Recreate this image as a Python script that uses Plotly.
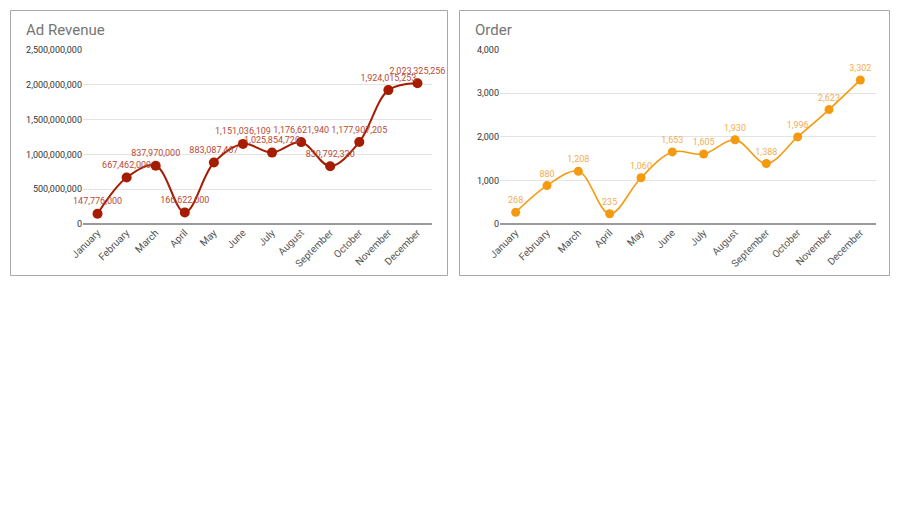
import plotly.graph_objects as go

months = ["January", "February", "March", "April", "May", "June", "July",
          "August", "September", "October", "November", "December"]
ad_revenue = [147776000, 667462000, 837970000, 166622000, 883087467, 1151036109,
              1025854720, 1176621940, 830792320, 1177907205, 1924015253, 2023325256]
orders = [268, 880, 1208, 235, 1060, 1653, 1605, 1930, 1388, 1996, 2623, 3302]

W, H = 900, 506
def px(x):
    return x / W
def py(y):
    return 1 - y / H

RED = "#a61c00"
ORANGE = "#f59a0f"
FONT = "Roboto"

fig = go.Figure()
fig.add_trace(go.Scatter(
    x=months, y=ad_revenue, mode="lines+markers+text",
    line=dict(color=RED, width=2, shape="spline", smoothing=1.0),
    marker=dict(color=RED, size=10),
    text=[f"{v:,}" for v in ad_revenue], textposition="top center",
    textfont=dict(color="#b94a36", size=9, family=FONT),
    cliponaxis=False, xaxis="x", yaxis="y", showlegend=False, hoverinfo="x+y"))
fig.add_trace(go.Scatter(
    x=months, y=orders, mode="lines+markers+text",
    line=dict(color=ORANGE, width=1.6, shape="spline", smoothing=1.0),
    marker=dict(color=ORANGE, size=9),
    text=[f"{v:,}" for v in orders], textposition="top center",
    textfont=dict(color="#f4ad52", size=9, family=FONT),
    cliponaxis=False, xaxis="x2", yaxis="y2", showlegend=False, hoverinfo="x+y"))

axis_common_x = dict(type="category", tickangle=-45, showgrid=False, showline=False,
                     ticks="", tickfont=dict(size=10, color="#555", family=FONT),
                     range=[-0.5, 11.5], fixedrange=True, automargin=False)
axis_common_y = dict(showgrid=True, gridcolor="#e3e3e3", gridwidth=1, zeroline=True,
                     zerolinecolor="#9a9a9a", zerolinewidth=2, showline=False, ticks="",
                     tickformat=",", tickfont=dict(size=9, color="#333", family=FONT),
                     fixedrange=True, automargin=False)

fig.update_layout(
    width=W, height=H, margin=dict(l=0, r=0, t=0, b=0),
    paper_bgcolor="white", plot_bgcolor="white",
    font=dict(family=FONT),
    xaxis=dict(domain=[px(83), px(432)], anchor="y", **axis_common_x),
    yaxis=dict(domain=[py(224), py(50)], anchor="x", range=[0, 2.5e9], dtick=5e8,
               **axis_common_y),
    xaxis2=dict(domain=[px(500), px(876)], anchor="y2", **axis_common_x),
    yaxis2=dict(domain=[py(224), py(49.5)], anchor="x2", range=[0, 4000], dtick=1000,
                **axis_common_y),
    shapes=[
        dict(type="rect", xref="paper", yref="paper", x0=px(10.5), x1=px(447.5),
             y0=py(275.5), y1=py(10.5), line=dict(color="#a8a8a8", width=1)),
        dict(type="rect", xref="paper", yref="paper", x0=px(459.5), x1=px(889.5),
             y0=py(275.5), y1=py(10.5), line=dict(color="#a8a8a8", width=1)),
    ],
    annotations=[
        dict(text="Ad Revenue", xref="paper", yref="paper", x=px(24), y=py(30),
             xanchor="left", yanchor="middle", showarrow=False,
             font=dict(size=15, color="#757575", family=FONT)),
        dict(text="Order", xref="paper", yref="paper", x=px(473), y=py(30),
             xanchor="left", yanchor="middle", showarrow=False,
             font=dict(size=15, color="#757575", family=FONT)),
    ],
)

fig.write_html("out.html")
